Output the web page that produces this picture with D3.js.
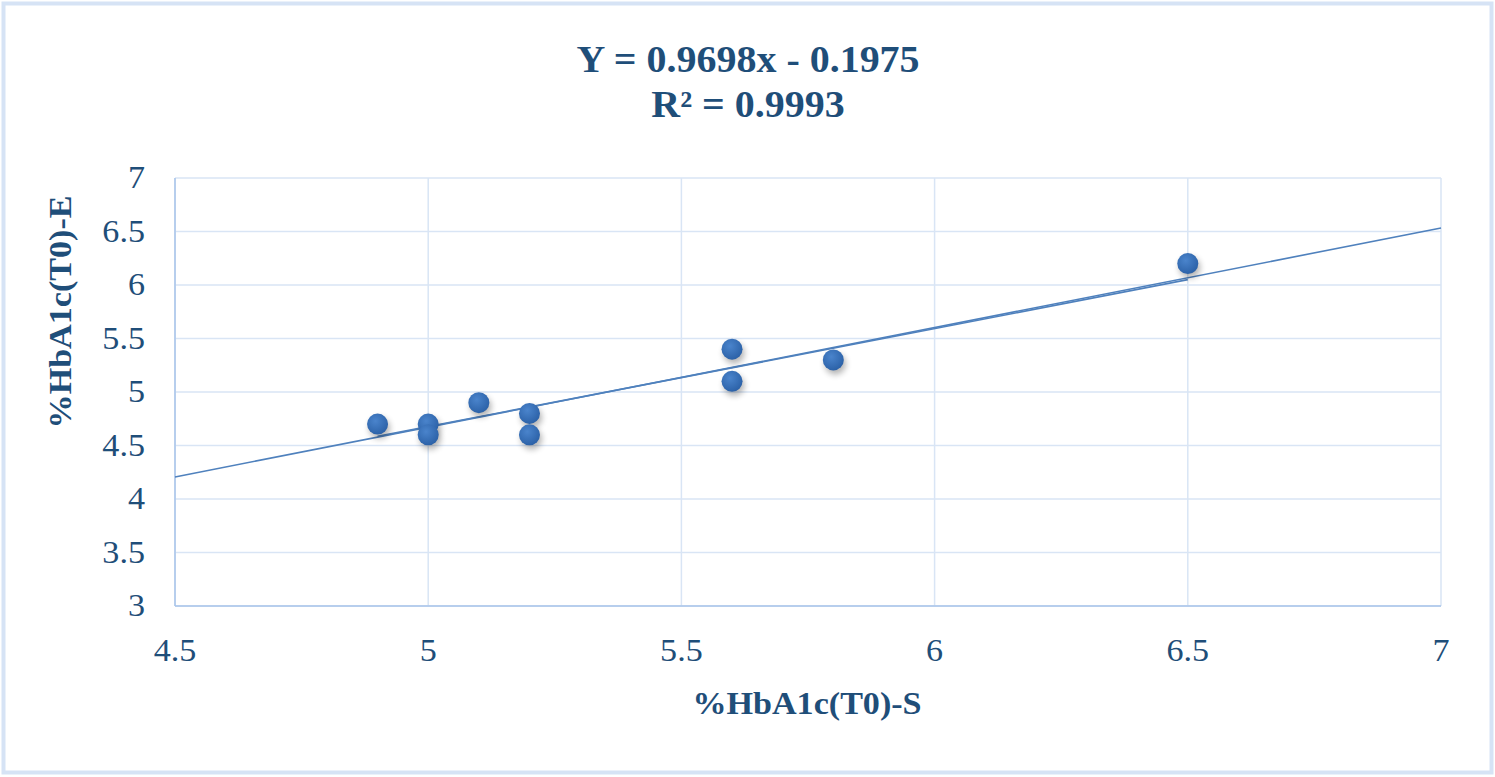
<!DOCTYPE html>
<html>
<head>
<meta charset="utf-8">
<script src="https://cdn.jsdelivr.net/npm/d3@7"></script>
<style>
  body { margin: 0; background: #fff; }
  text { font-family: 'Liberation Serif', 'Times New Roman', Times, serif; fill: #1f4e79; }
</style>
</head>
<body>
<svg id="chart"></svg>
<script>
// values
const xValues = [4.9, 5.0, 5.0, 5.1, 5.2, 5.2, 5.6, 5.6, 5.8, 6.5];
const yValues = [4.7, 4.7, 4.6, 4.9, 4.8, 4.6, 5.4, 5.1, 5.3, 6.2];
const xTicks = [4.5, 5, 5.5, 6, 6.5, 7];
const yTicks = [3, 3.5, 4, 4.5, 5, 5.5, 6, 6.5, 7];
// trend lines as drawn: long one across the axis, short one over the data
const trendX = [4.5, 7];
const trendY = [4.206, 6.533];
const shortX = [4.9, 6.5];
const shortY = [4.585, 6.05];
const titleLines = ['Y = 0.9698x - 0.1975', 'R² = 0.9993'];

const width = 1495;
const height = 777;
const stretch = 1.1; // the source text is a bit wide

const svg = d3.select('#chart')
  .attr('width', width)
  .attr('height', height);

// outer frame
svg.append('rect')
  .attr('x', 3.5).attr('y', 3.5)
  .attr('width', width - 7).attr('height', height - 8)
  .attr('fill', '#fff')
  .attr('stroke', '#d6e3f5')
  .attr('stroke-width', 4);

const x = d3.scaleLinear().domain([4.5, 7]).range([175, 1441]);
const y = d3.scaleLinear().domain([3, 7]).range([606, 178]);

const grid = svg.append('g');
grid.selectAll('.hgrid')
  .data(yTicks)
  .enter()
  .append('line')
  .attr('x1', x(4.5)).attr('x2', x(7))
  .attr('y1', d => y(d)).attr('y2', d => y(d))
  .attr('stroke', '#d9e5f5')
  .attr('stroke-width', 1.5);
grid.selectAll('.vgrid')
  .data(xTicks)
  .enter()
  .append('line')
  .attr('x1', d => x(d)).attr('x2', d => x(d))
  .attr('y1', y(3)).attr('y2', y(7))
  .attr('stroke', '#d9e5f5')
  .attr('stroke-width', 1.5);

// axis lines
svg.append('line')
  .attr('x1', x(4.5)).attr('x2', x(4.5))
  .attr('y1', y(3)).attr('y2', y(7))
  .attr('stroke', '#a9c4ea').attr('stroke-width', 1.5);
svg.append('line')
  .attr('x1', x(4.5)).attr('x2', x(7))
  .attr('y1', y(3)).attr('y2', y(3))
  .attr('stroke', '#a9c4ea').attr('stroke-width', 1.5);

// tick labels
svg.append('g')
  .selectAll('text')
  .data(yTicks)
  .enter()
  .append('text')
  .attr('transform', d => 'translate(145,' + (y(d) + 10) + ') scale(' + stretch + ',1)')
  .attr('text-anchor', 'end')
  .attr('font-size', 31)
  .text(d => d);

svg.append('g')
  .selectAll('text')
  .data(xTicks)
  .enter()
  .append('text')
  .attr('transform', d => 'translate(' + x(d) + ',661) scale(' + stretch + ',1)')
  .attr('text-anchor', 'middle')
  .attr('font-size', 31)
  .text(d => d);

// trend lines
const line = d3.line().x(d => x(d[0])).y(d => y(d[1]));
svg.append('path')
  .datum(d3.zip(trendX, trendY))
  .attr('d', line)
  .attr('fill', 'none')
  .attr('stroke', '#4f81bd')
  .attr('stroke-width', 1.6);
svg.append('path')
  .datum(d3.zip(shortX, shortY))
  .attr('d', line)
  .attr('fill', 'none')
  .attr('stroke', '#4f81bd')
  .attr('stroke-width', 1.6);

// markers
const defs = svg.append('defs');
const grad = defs.append('radialGradient')
  .attr('id', 'dot')
  .attr('cx', '40%').attr('cy', '35%').attr('r', '65%');
grad.append('stop').attr('offset', '0%').attr('stop-color', '#4a84cc');
grad.append('stop').attr('offset', '100%').attr('stop-color', '#2c62a8');
const blur = defs.append('filter').attr('id', 'shadow')
  .attr('x', '-50%').attr('y', '-50%').attr('width', '200%').attr('height', '200%');
blur.append('feGaussianBlur').attr('stdDeviation', 3);

const pts = d3.zip(xValues, yValues);
svg.append('g')
  .selectAll('circle')
  .data(pts)
  .enter()
  .append('circle')
  .attr('cx', d => x(d[0]) + 2)
  .attr('cy', d => y(d[1]) + 4)
  .attr('r', 10.5)
  .attr('fill', '#000')
  .attr('opacity', 0.3)
  .attr('filter', 'url(#shadow)');
svg.append('g')
  .selectAll('circle')
  .data(pts)
  .enter()
  .append('circle')
  .attr('cx', d => x(d[0]))
  .attr('cy', d => y(d[1]))
  .attr('r', 10.5)
  .attr('fill', 'url(#dot)');

// titles
svg.append('g')
  .selectAll('text')
  .data(titleLines)
  .enter()
  .append('text')
  .attr('transform', (d, i) => 'translate(748,' + (72 + i * 45) + ') scale(1.08,1)')
  .attr('text-anchor', 'middle')
  .attr('font-size', 37)
  .attr('font-weight', 'bold')
  .text(d => d);

svg.append('text')
  .attr('transform', 'translate(807,714) scale(' + stretch + ',1)')
  .attr('text-anchor', 'middle')
  .attr('font-size', 31)
  .attr('font-weight', 'bold')
  .text('%HbA1c(T0)-S');

svg.append('text')
  .attr('transform', 'translate(71,312) rotate(-90) scale(' + stretch + ',1)')
  .attr('text-anchor', 'middle')
  .attr('font-size', 31)
  .attr('font-weight', 'bold')
  .text('%HbA1c(T0)-E');
</script>
</body>
</html>
